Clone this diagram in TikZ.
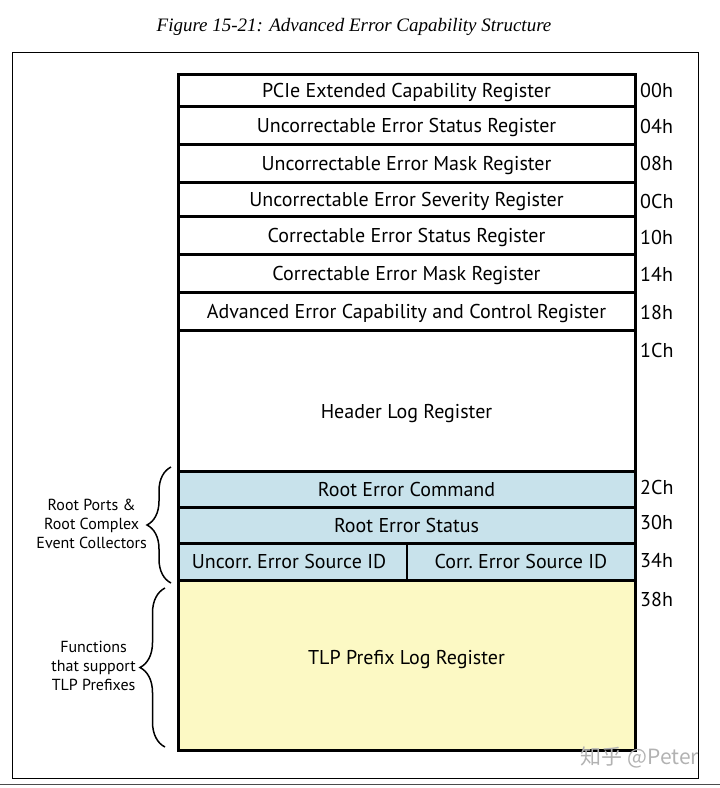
\documentclass[tikz,border=0pt]{standalone}
\usepackage{fontspec}
\setmainfont{PT Sans}
\newfontfamily\titlefont{Liberation Serif}
\newfontfamily\cjkfont{Noto Sans CJK SC}
\usetikzlibrary{decorations.pathreplacing}
\definecolor{rootblue}{RGB}{200,226,235}
\definecolor{prefixyellow}{RGB}{252,249,196}

\tikzset{
  reg/.style={draw, line width=3pt, minimum width=457pt, inner sep=0pt,
              text depth=0pt, font=\fontsize{20}{22}\selectfont},
  regtext/.style={text depth=0pt, font=\fontsize{20}{22}\selectfont},
  offs/.style={anchor=west, inner sep=0pt, font=\fontsize{20}{22}\selectfont},
  side/.style={align=center, anchor=east, inner sep=0pt,
               font=\fontsize{16}{19}\selectfont},
  curly/.style={decorate, line width=1.5pt}
}

\begin{document}
\begin{tikzpicture}[x=1pt,y=-1pt]

\useasboundingbox (0,0) rectangle (720,788);

\node[font=\titlefont\itshape\fontsize{19}{21}\selectfont] (title) at (354,27)
  {Figure 15-21: Advanced Error Capability Structure};

\draw[line width=1pt] (12,52) rectangle (698,778);
\draw[line width=0.8pt, black!70] (0,784) -- (720,784);

% registers
\node[reg, minimum height=32pt] (r00) at (406.5,90) {PCIe Extended Capability Register};
\node[reg, minimum height=38pt] (r04) at (406.5,125) {Uncorrectable Error Status Register};
\node[reg, minimum height=38pt] (r08) at (406.5,163) {Uncorrectable Error Mask Register};
\node[reg, minimum height=34pt] (r0C) at (406.5,199) {Uncorrectable Error Severity Register};
\node[reg, minimum height=38pt] (r10) at (406.5,235) {Correctable Error Status Register};
\node[reg, minimum height=38pt] (r14) at (406.5,273) {Correctable Error Mask Register};
\node[reg, minimum height=38pt] (r18) at (406.5,311) {Advanced Error Capability and Control Register};
\node[reg, minimum height=141pt] (r1C) at (406.5,400.5) {};
\node[regtext] (hdr) at ([yshift=-11pt]r1C.center) {Header Log Register};

\node[reg, fill=rootblue, minimum height=36pt] (r2C) at (406.5,489) {Root Error Command};
\node[reg, fill=rootblue, minimum height=36pt] (r30) at (406.5,525) {Root Error Status};
\node[reg, fill=rootblue, minimum height=37pt] (r34) at (406.5,561.5) {};
\draw[line width=2pt] (r34.south -| 407,0) -- (r34.north -| 407,0);
\node[regtext] (uncorr) at (289,561) {Uncorr.\ Error Source ID};
\node[regtext] (corr) at (521,561) {Corr.\ Error Source ID};

\node[reg, fill=prefixyellow, minimum height=170pt] (r38) at (406.5,665) {};
\node[regtext] (tlp) at ([yshift=8pt]r38.center) {TLP Prefix Log Register};

% offsets
\foreach \off/\y in {00h/90, 04h/126, 08h/163, 0Ch/201, 10h/237, 14h/274,
                     18h/312, 1Ch/350, 2Ch/487, 30h/522, 34h/561, 38h/599}
  \node[offs] (o\off) at (640,\y) {\off};

% braces
\draw[curly, decoration={brace, amplitude=24pt}] (171,583) -- (171,467);
\coordinate (roottip) at (147,524);
\node[side] (rootlbl) at (roottip) {Root Ports \&\\Root Complex\\Event Collectors};

\draw[curly, decoration={brace, amplitude=25pt}] (165,747) -- (165,588);
\coordinate (tlptip) at (136,666);
\node[side] (tlplbl) at (tlptip) {Functions\\that support\\TLP Prefixes};

\node[font=\cjkfont\fontsize{21}{22}\selectfont, text=black!30] (mark) at (640,757) {知乎 @Peter};

\end{tikzpicture}
\end{document}
